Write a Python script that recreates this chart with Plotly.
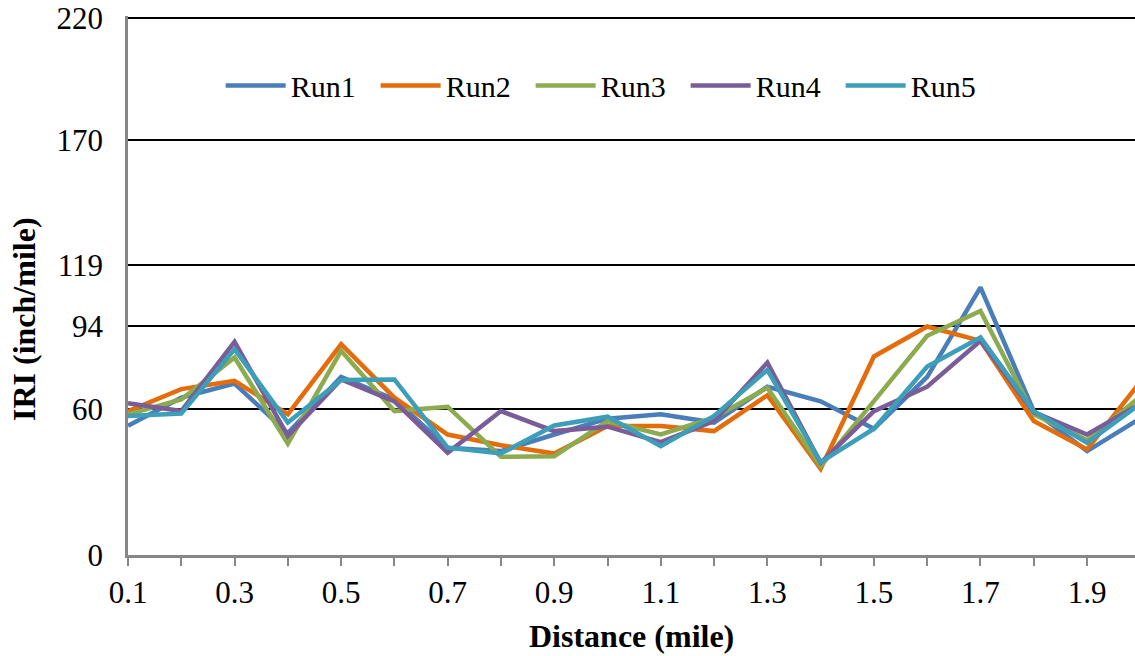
import plotly.graph_objects as go

# Distance along the section (mile)
distance = [0.1, 0.2, 0.3, 0.4, 0.5, 0.6, 0.7, 0.8, 0.9, 1.0,
            1.1, 1.2, 1.3, 1.4, 1.5, 1.6, 1.7, 1.8, 1.9, 2.0]

# IRI (inch/mile) for each of the five runs
run1 = [53.0, 64.5, 70.3, 50.0, 73.0, 63.8, 44.0, 42.6, 49.4, 55.9,
        57.7, 54.3, 69.0, 63.0, 51.8, 73.0, 109.7, 59.0, 42.6, 56.0]
run2 = [59.0, 68.0, 71.4, 57.7, 86.4, 64.5, 49.4, 45.0, 41.6, 52.9,
        52.9, 50.8, 65.5, 35.3, 81.4, 93.7, 87.8, 54.9, 43.3, 71.0]
run3 = [57.7, 63.8, 81.0, 45.7, 83.7, 59.0, 60.8, 40.3, 40.5, 54.9,
        49.4, 56.3, 68.6, 36.4, 63.1, 89.9, 100.1, 57.7, 47.1, 65.0]
run4 = [62.2, 59.0, 87.4, 48.8, 72.0, 63.0, 41.9, 59.0, 50.8, 52.6,
        46.3, 54.9, 78.9, 37.8, 59.0, 69.0, 87.8, 58.6, 49.4, 62.0]
run5 = [57.0, 58.0, 84.4, 54.3, 71.8, 72.0, 44.0, 41.6, 53.1, 56.7,
        44.6, 57.0, 75.9, 38.1, 51.8, 77.3, 89.2, 59.0, 46.0, 62.0]

run_names = ["Run1", "Run2", "Run3", "Run4", "Run5"]
run_values = [run1, run2, run3, run4, run5]
run_colors = ["#4A7EBB", "#E46C0A", "#8CAA4E", "#7A5C98", "#3C9EB8"]

y_ticks = [0, 60, 94, 119, 170, 220]
x_ticks = [0.1, 0.2, 0.3, 0.4, 0.5, 0.6, 0.7, 0.8, 0.9, 1.0,
           1.1, 1.2, 1.3, 1.4, 1.5, 1.6, 1.7, 1.8, 1.9, 2.0]
x_tick_text = ["0.1", "", "0.3", "", "0.5", "", "0.7", "", "0.9", "",
               "1.1", "", "1.3", "", "1.5", "", "1.7", "", "1.9", ""]

FONT = "Liberation Serif"

fig = go.Figure()
for name, vals, color in zip(run_names, run_values, run_colors):
    fig.add_trace(go.Scatter(
        x=distance, y=vals, name=name, mode="lines",
        line=dict(color=color, width=4.5),
    ))

fig.update_layout(
    width=1135, height=656,
    margin=dict(l=128, r=0, t=16, b=101),
    paper_bgcolor="white", plot_bgcolor="white",
    font=dict(family=FONT, size=31, color="black"),
    showlegend=True,
    legend=dict(
        orientation="h", x=0.092, y=0.871, xanchor="left", yanchor="middle",
        font=dict(family=FONT, size=30, color="black"),
        bgcolor="rgba(0,0,0,0)", itemwidth=60,
        entrywidth=80, entrywidthmode="pixels",
    ),
    xaxis=dict(
        range=[0.1, 1.99], tickmode="array", tickvals=x_ticks, ticktext=x_tick_text,
        showgrid=False, zeroline=False,
        showline=True, linecolor="#878787", linewidth=2.5,
        ticks="outside", ticklen=8, tickwidth=2, tickcolor="#878787",
        tickfont=dict(family=FONT, size=31, color="black"),
    ),
    yaxis=dict(
        range=[0, 221], tickmode="array", tickvals=y_ticks,
        showgrid=True, gridcolor="black", gridwidth=1.6, zeroline=False,
        showline=True, linecolor="#878787", linewidth=2.5,
        ticks="", ticklabelstandoff=16,
        tickfont=dict(family=FONT, size=31, color="black"),
    ),
    annotations=[
        dict(text="<b>Distance (mile)</b>", xref="paper", yref="paper",
             x=0.5, y=0, xanchor="center", yanchor="middle", yshift=-81,
             showarrow=False, font=dict(family=FONT, size=32, color="black")),
        dict(text="<b>IRI (inch/mile)</b>", xref="paper", yref="paper",
             x=0, y=(555 - 319) / 539, xanchor="center", yanchor="middle",
             xshift=-104, textangle=-90,
             showarrow=False, font=dict(family=FONT, size=32, color="black")),
    ],
)

fig.write_html("out.html")
